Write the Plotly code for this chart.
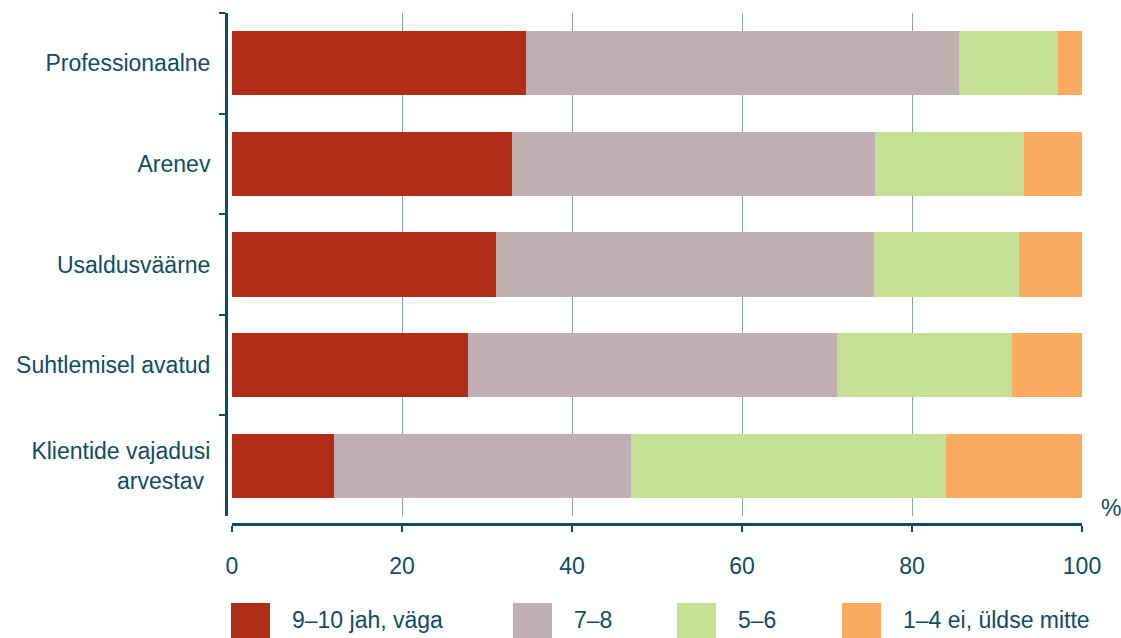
import plotly.graph_objects as go

categories = ["Professionaalne", "Arenev", "Usaldusväärne", "Suhtlemisel avatud",
              "Klientide vajadusi<br>arvestav\u00a0"]
series_names = ["9–10 jah, väga", "7–8", "5–6", "1–4 ei, üldse mitte"]
s_9_10 = [34.6, 32.9, 31.1, 27.8, 12.0]
s_7_8 = [50.9, 42.7, 44.4, 43.4, 34.9]
s_5_6 = [11.7, 17.6, 17.1, 20.6, 37.1]
s_1_4 = [2.8, 6.8, 7.4, 8.2, 16.0]
colors = ["#B22D17", "#C0B0B4", "#C5DF95", "#F9AC5F"]
x_ticks = [0, 20, 40, 60, 80, 100]

TXT = "#0E4D64"
FONT = "Liberation Sans, Arial, sans-serif"

fig = go.Figure()
for name, vals, col in zip(series_names, [s_9_10, s_7_8, s_5_6, s_1_4], colors):
    fig.add_trace(go.Bar(y=categories, x=vals, name=name, orientation="h",
                         marker=dict(color=col, line=dict(width=0)), width=0.64,
                         showlegend=False))

W, H = 1121, 638
x0, x1 = 232 / W, 1082 / W
ytop, ybot = 1 - 13 / H, 1 - 516 / H

fig.update_layout(
    width=W, height=H, barmode="stack",
    margin=dict(l=0, r=0, t=0, b=0, autoexpand=False),
    plot_bgcolor="white", paper_bgcolor="white",
    font=dict(family=FONT, size=23, color=TXT),
    xaxis=dict(domain=[x0, x1], range=[0, 100], tickvals=x_ticks,
               showgrid=True, gridcolor="#8aa3b2", gridwidth=1, zeroline=False,
               showline=True, linecolor=TXT, linewidth=3,
               ticks="outside", ticklen=6, tickwidth=2, tickcolor=TXT,
               anchor="free", position=1 - 524 / H, ticklabelstandoff=14,
               automargin=False, tickfont=dict(size=23)),
    yaxis=dict(domain=[ybot, ytop], categoryorder="array", categoryarray=categories,
               autorange="reversed", tickson="boundaries",
               showline=True, linecolor=TXT, linewidth=3,
               ticks="outside", ticklen=6, tickwidth=2, tickcolor=TXT,
               anchor="free", position=226 / W, showgrid=False,
               automargin=False, ticklabelstandoff=10,
               tickfont=dict(size=23)),
)

fig.add_annotation(x=1099 / W, y=1 - 493 / H, xref="paper", yref="paper",
                   text="%", showarrow=False, xanchor="left", yanchor="top",
                   font=dict(size=23, color=TXT))

# legend drawn manually
sw_x = [231, 513, 677, 842]
for i, (name, col) in enumerate(zip(series_names, colors)):
    xa = sw_x[i]
    fig.add_shape(type="rect", xref="paper", yref="paper",
                  x0=xa / W, x1=(xa + 39) / W, y0=1 - 638 / H, y1=1 - 603 / H,
                  fillcolor=col, line=dict(width=0))
    fig.add_annotation(x=(xa + 59) / W, y=1 - 620 / H, xref="paper", yref="paper",
                       text=name, showarrow=False, xanchor="left", yanchor="middle",
                       font=dict(size=23, color=TXT))

fig.write_html("out.html")
